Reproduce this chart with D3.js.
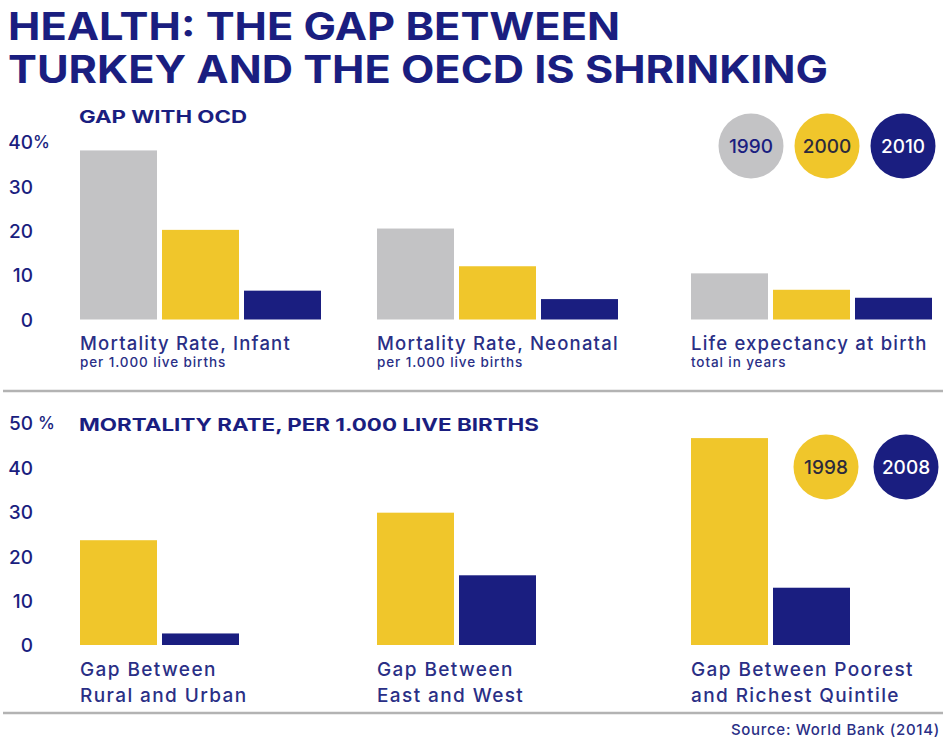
<!DOCTYPE html>
<html>
<head>
<meta charset="utf-8">
<script src="https://cdn.jsdelivr.net/npm/d3@7"></script>
<style>
  body { margin: 0; background: #ffffff; }
  svg { display: block; }
  text { font-family: Inter, "Open Sans", sans-serif; }
</style>
</head>
<body>
<svg id="chart" width="946" height="740"></svg>
<script>
// ---- Gap with OECD (percent) ----
const gapCategories = ["Mortality Rate, Infant", "Mortality Rate, Neonatal", "Life expectancy at birth"];
const gapSubtitles = ["per 1.000 live births", "per 1.000 live births", "total in years"];
const gapYears = ["1990", "2000", "2010"];
const gap1990 = [38.1, 20.5, 10.4];
const gap2000 = [20.2, 12.0, 6.7];
const gap2010 = [6.5, 4.6, 4.9];
const gapTicks = [0, 10, 20, 30, 40];

// ---- Mortality rate gaps, per 1.000 live births (percent) ----
const mortalityCategories = [
  ["Gap Between", "Rural and Urban"],
  ["Gap Between", "East and West"],
  ["Gap Between Poorest", "and Richest Quintile"]
];
const mortalityYears = ["1998", "2008"];
const mortality1998 = [23.6, 29.8, 46.6];
const mortality2008 = [2.6, 15.7, 12.9];
const mortalityTicks = [0, 10, 20, 30, 40, 50];

const NAVY = "#1a1e80";
const LABEL = "#2a2f86";
const GRAY = "#c3c3c5";
const YELLOW = "#f0c62b";
const yearColor = { "1990": GRAY, "2000": YELLOW, "2010": NAVY, "1998": YELLOW, "2008": NAVY };
const yearText = { "1990": NAVY, "2000": "#2c2a3c", "2010": "#ffffff", "1998": "#2c2a3c", "2008": "#ffffff" };

const svg = d3.select("#chart");

// Headline, two tightly stacked lines
const headline = svg.append("g").attr("fill", NAVY)
  .style("font-family", "'Liberation Sans', Arial, sans-serif")
  .style("font-weight", 700).style("font-size", "38px");
headline.append("text").attr("x", 8).attr("y", 40)
  .attr("textLength", 612).attr("lengthAdjust", "spacingAndGlyphs")
  .text("HEALTH: THE GAP BETWEEN");
headline.append("text").attr("x", 8).attr("y", 83)
  .attr("textLength", 820).attr("lengthAdjust", "spacingAndGlyphs")
  .text("TURKEY AND THE OECD IS SHRINKING");

// Group positions shared by both panels
const groupX = d3.scaleOrdinal().domain([0, 1, 2]).range([80, 377, 691]);

function drawPanel(cfg) {
  const g = svg.append("g");
  const y = d3.scaleLinear().domain([0, d3.max(cfg.ticks)]).range(cfg.yRange);
  const inner = d3.scaleBand().domain(cfg.years)
    .range([0, 82 * cfg.years.length - 5]).paddingInner(5 / 82).paddingOuter(0);

  // Section heading
  g.append("text").attr("x", 79).attr("y", cfg.headingY)
    .attr("fill", NAVY).style("font-weight", 700).style("font-size", "17px")
    .attr("textLength", cfg.headingWidth).attr("lengthAdjust", "spacingAndGlyphs")
    .text(cfg.heading);

  // Value axis
  const axis = g.append("g").attr("transform", "translate(33,0)")
    .call(d3.axisLeft(y).tickValues(cfg.ticks).tickSize(0).tickPadding(0).tickFormat(d3.format("d")));
  axis.select(".domain").remove();
  axis.selectAll("text")
    .attr("fill", NAVY).attr("dy", "0.36em")
    .style("font-family", "Inter, sans-serif")
    .style("font-size", "19px").style("font-weight", 500);
  g.append("text").attr("x", cfg.pctX).attr("y", y(d3.max(cfg.ticks))).attr("dy", "0.36em")
    .attr("fill", NAVY).style("font-size", "17px").style("font-weight", 500)
    .text("%");

  // Bars
  const groups = g.selectAll("g.grp").data(cfg.categories).join("g")
    .attr("class", "grp")
    .attr("transform", (d, i) => `translate(${groupX(i)},0)`);
  groups.selectAll("rect").data((d, i) => cfg.years.map((yr, k) => ({ yr, v: cfg.series[k][i] })))
    .join("rect")
    .attr("x", d => inner(d.yr))
    .attr("width", inner.bandwidth())
    .attr("y", d => y(d.v))
    .attr("height", d => y(0) - y(d.v))
    .attr("fill", d => yearColor[d.yr]);

  // Category labels
  groups.each(function (d, i) {
    cfg.labels(d3.select(this), d, i);
  });

  // Legend bubbles
  const leg = g.selectAll("g.leg").data(cfg.years).join("g")
    .attr("class", "leg")
    .attr("transform", (d, i) => `translate(${cfg.legendX[i]},${cfg.legendY})`);
  leg.append("circle").attr("r", 32.5).attr("fill", d => yearColor[d]);
  leg.append("text").attr("text-anchor", "middle").attr("dy", "0.36em")
    .attr("fill", d => yearText[d])
    .style("font-size", "19px").style("font-weight", 500)
    .text(d => d);
}

drawPanel({
  heading: "GAP WITH OCD", headingY: 123, headingWidth: 168,
  categories: gapCategories,
  years: gapYears,
  series: [gap1990, gap2000, gap2010],
  ticks: gapTicks,
  yRange: [319.5, 142],
  pctX: 33,
  legendX: [751, 827, 903], legendY: 146,
  labels: (sel, d, i) => {
    sel.append("text").attr("x", 0).attr("y", 350)
      .attr("fill", LABEL).style("font-size", "18.5px").style("font-weight", 500)
      .style("letter-spacing", "1.2px")
      .text(d);
    sel.append("text").attr("x", 0).attr("y", 367)
      .attr("fill", LABEL).style("font-size", "13.5px").style("font-weight", 500)
      .style("letter-spacing", "0.9px")
      .text(gapSubtitles[i]);
  }
});

drawPanel({
  heading: "MORTALITY RATE, PER 1.000 LIVE BIRTHS", headingY: 431, headingWidth: 460,
  categories: mortalityCategories,
  years: mortalityYears,
  series: [mortality1998, mortality2008],
  ticks: mortalityTicks,
  yRange: [645, 423],
  pctX: 38,
  legendX: [826, 906], legendY: 467,
  labels: (sel, d) => {
    d.forEach((line, k) => {
      sel.append("text").attr("x", 0).attr("y", 676 + k * 26)
        .attr("fill", LABEL).style("font-size", "19px").style("font-weight", 500)
        .style("letter-spacing", "1.4px")
        .text(line);
    });
  }
});

// Panel dividers
svg.selectAll("line.divider").data([391, 713]).join("line")
  .attr("class", "divider")
  .attr("x1", 3).attr("x2", 943)
  .attr("y1", d => d).attr("y2", d => d)
  .attr("stroke", "#b3b3b3").attr("stroke-width", 2.5);

// Source note
svg.append("text").attr("x", 940).attr("y", 735).attr("text-anchor", "end")
  .attr("fill", LABEL).style("font-size", "15px").style("font-weight", 500)
  .style("letter-spacing", "0.7px")
  .text("Source: World Bank (2014)");
</script>
</body>
</html>
